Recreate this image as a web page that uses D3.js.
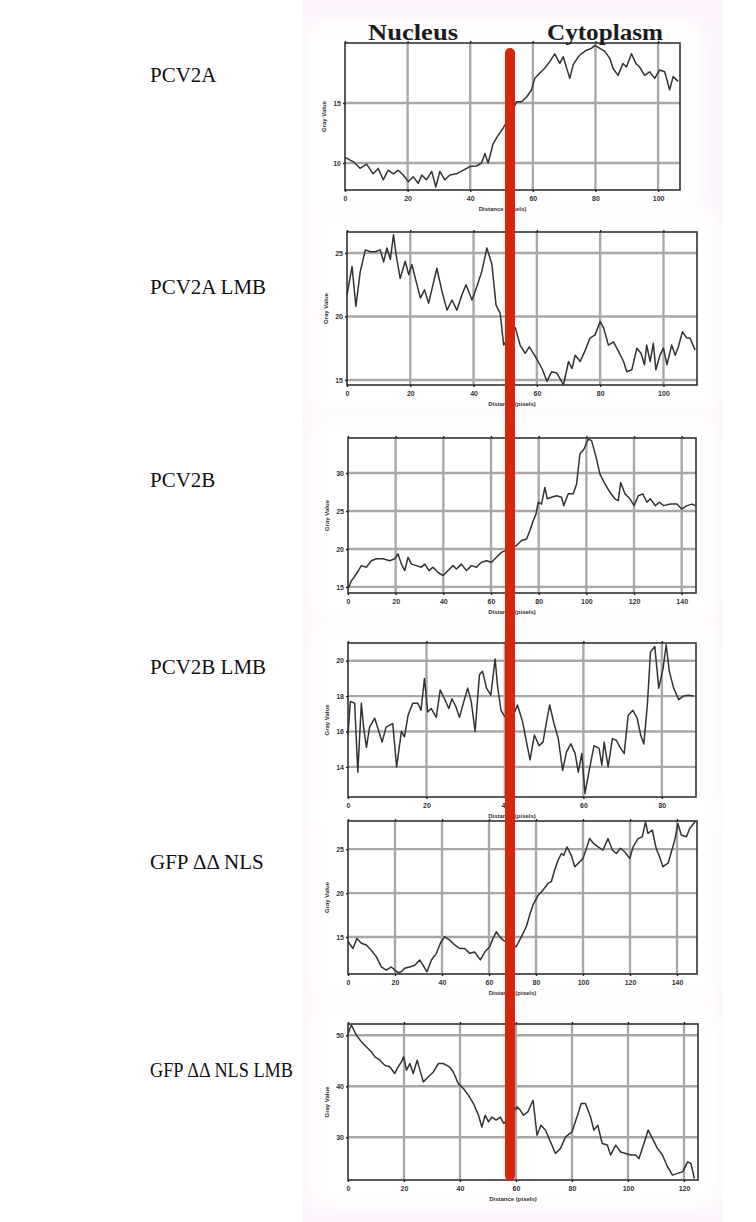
<!DOCTYPE html>
<html>
  <head>
    <meta charset="utf-8" />
    <title>Line profiles</title>
    <script src="https://d3js.org/d3.v7.min.js"></script>
    <style>
        body {margin: 0; background: #ffffff;}
        .rowLabel {font-family: "Liberation Serif", "Times New Roman", serif; font-size: 21px; fill: #111;}
        .head {font-family: "Liberation Serif", serif; font-weight: bold; font-size: 24px; fill: #1c1c1c;}
        .tick text {font-family: "Liberation Sans", Arial, sans-serif; font-size: 7px; font-weight: bold; fill: #333;}
        .axLabel {font-family: "Liberation Sans", Arial, sans-serif; font-size: 6px; font-weight: bold; fill: #333;}
    </style>
  </head>
  <body>

    <svg id="canvas" width="756" height="1222"></svg>

    <script>

        // ---- data ----
        var rowLabels = ["PCV2A", "PCV2A LMB", "PCV2B", "PCV2B LMB", "GFP \u0394\u0394 NLS", "GFP \u0394\u0394 NLS LMB"];
        var headLabels = ["Nucleus", "Cytoplasm"];
        var xTitle = "Distance (pixels)";
        var yTitle = "Gray Value";
        var boundaryDist = 52.7; // where the red bar sits, in panel 1 distance

        var pcv2aDist = [0,2.7,4.8,6.9,9,10.6,12.2,13.8,15.4,17,18.6,20.2,21.8,23.4,24.5,26,27.7,29,30.3,31.9,33.5,35.6,37.8,39.9,42,43.6,44.7,45.7,47.3,48.9,50.5,52.5,54.8,56.4,58,59.6,60.6,62.2,63.8,65.4,67,68.6,69.7,71.8,72.9,74.5,75.5,77.1,78.7,79.8,81.4,83,84.6,85.6,87.2,88.8,89.9,91.5,92.9,94.1,95.7,97.3,98.9,100.5,102.1,103.7,104.8,106.4];
        var pcv2aGray = [10.47,10.1,9.56,9.9,9.1,9.55,8.6,9.4,9.1,9.4,9.0,8.45,8.85,8.3,9.0,8.6,9.3,8.0,9.3,8.6,9.0,9.1,9.4,9.7,9.75,10.0,10.8,10.0,11.6,12.3,12.9,13.8,15.1,15.1,15.5,16.1,17.05,17.5,17.9,18.45,19.1,18.3,18.85,17.05,18.2,18.85,19.1,19.4,19.55,19.8,19.55,19.3,18.7,17.9,17.3,18.3,18.0,19.1,18.3,18.0,17.3,17.6,17.05,17.75,17.6,16.1,17.2,16.8];

        var pcv2aLmbDist = [0,1.6,2.8,4.2,5.8,7.4,8.9,10.5,11.6,12.6,13.7,14.7,15.5,16.8,18.4,19.5,20.5,21.6,23.2,24.5,25.8,27.4,28.4,30,31.6,33.2,34.7,36.3,37.6,39.5,41.1,42.6,44.2,45.8,47.1,48.4,49.5,51.3,53.2,54.7,56.3,57.6,59.5,61.6,63.2,64.7,66.3,68.4,70,71.1,72.1,73.7,75.3,76.8,78.4,80,81.1,82.6,84.2,85.8,87.4,88.4,90,91.6,92.9,94,94.7,95.8,96.8,97.6,98.9,100,101.1,102.6,103.7,104.7,106,107.4,108.4,110];
        var pcv2aLmbGray = [21.7,23.95,20.8,23.55,25.25,25.1,25.1,25.25,24.3,25.4,24.5,26.45,24.9,23.0,24.35,23.3,24.1,23.0,21.45,22.1,21.05,22.75,23.8,22.0,20.5,21.3,20.5,21.7,22.5,21.3,22.4,23.55,25.4,24.1,20.9,20.25,17.75,18.4,19.1,17.75,17.1,17.6,16.85,15.9,14.9,15.65,15.55,14.6,16.45,15.9,16.95,16.45,17.35,18.3,18.55,19.6,19.1,17.75,18.0,17.25,16.45,15.65,15.8,17.5,17.1,16.2,17.75,16.45,17.9,15.8,16.95,17.5,16.2,17.75,16.95,17.6,18.8,18.3,18.3,17.35];

        var pcv2bDist = [0,1.4,3.5,5.6,7.7,9.8,11.9,14.7,17.5,19.6,21,22.4,23.8,25.2,26.6,28.7,30.8,32.2,34,35.7,37.8,39.9,42,44.1,45.5,47.6,49.7,51.8,53.9,56,58.1,60.2,62.3,64.4,67.5,70.7,72.8,74.9,76.3,77.7,78.9,79.8,81.2,82.6,83.6,85.4,87.5,89.6,90.5,92.4,94.5,95.9,97.3,99,100.8,102.2,104.1,105.7,107.8,109.9,112,113.4,114.4,116.2,118.3,120,121.8,123.7,125.4,126.8,128.9,130.7,132.4,135.2,138,140,142.2,144.3,145.7];
        var pcv2bGray = [14.7,15.8,16.7,17.8,17.6,18.45,18.7,18.7,18.45,18.7,19.35,18.0,17.15,18.9,18.0,17.8,17.6,18.0,17.15,17.6,16.9,16.5,17.15,17.8,17.35,18.0,17.15,17.8,17.6,18.25,18.45,18.25,18.9,19.55,20.0,20.45,21.1,21.3,22.4,23.7,24.6,26.15,25.9,28.1,26.6,26.8,27.0,26.8,25.7,27.25,27.25,28.55,32.5,33.15,34.45,34.25,32.05,29.85,28.55,27.45,26.6,26.35,28.75,27.25,26.6,25.7,27.0,27.25,26.15,26.6,25.7,26.15,25.7,25.9,25.9,25.25,25.7,25.9,25.7];

        var pcv2bLmbDist = [0,0.6,1.7,2.5,3.4,4,4.7,5.5,6.8,7.6,8.7,9.7,11.4,12.4,13.6,14.4,15.3,16.5,17.8,18.6,19.5,20.3,21.2,22.5,23.5,24.6,25.7,26.5,27.5,28.4,29.4,30.5,31.4,32.4,33.5,34.3,35.3,36.4,37.5,38.1,39,39.8,41.5,43.2,44.5,45.5,46.4,47.5,48.7,49.7,50.6,51.4,52.5,53.6,54.7,55.7,56.8,57.9,58.7,59.6,60.4,61.4,62.7,64,64.7,65.3,66.3,67.4,68.4,69.5,70.4,71.4,72.6,73.7,74.6,75.4,76.3,77.1,78.2,79.2,80.3,81.1,81.9,83,84.3,85.5,86.8,88.1];
        var pcv2bLmbGray = [15.8,17.7,17.6,13.7,17.6,16.2,15.1,16.25,16.75,16.2,15.4,16.25,16.45,14.0,16.0,15.7,16.9,17.6,17.6,17.2,19.0,17.1,17.3,16.8,18.35,17.85,17.3,17.85,17.4,16.8,17.6,18.45,17.7,16.0,19.2,19.4,18.45,18.05,20.1,18.6,17.2,16.9,16.6,17.5,16.55,15.4,14.4,15.8,15.2,15.4,16.55,17.5,16.45,15.6,13.8,14.85,15.3,14.75,13.7,14.75,12.5,13.7,15.2,15.05,14.1,15.4,14.0,15.6,15.5,15.05,14.75,16.9,17.2,16.75,15.8,15.3,17.5,20.5,20.8,18.45,19.55,20.9,19.4,18.45,17.8,18.0,18.05,18.0];

        var gfpDist = [0,2.1,3.8,5.7,7.8,9.9,12.1,14.2,16.3,18.4,19.9,21.3,22.7,24.1,26.2,28.4,30.5,31.9,33.6,35.5,37.6,39.3,41.1,43.3,45.4,47.5,49.6,51.8,53.9,56.3,58.2,60.3,61.7,63.1,64.5,66,68.8,71.6,73.8,75.9,77.3,78.7,80.9,83,85.1,86.5,87.9,89.4,90.8,91.8,93.2,95,96.5,98.6,100,101.4,102.8,104.5,106.4,108.5,110.6,112.5,114.2,115.9,117.7,119.9,121.3,123.4,125.2,126.6,127.6,129.5,131.1,132.6,134,136.2,137.6,139,140.4,141.8,144,145.4,147.9];
        var gfpGray = [14.5,13.7,14.85,14.3,14.1,13.5,12.75,11.6,11.25,11.6,11.25,10.95,11.05,11.45,11.6,11.8,12.4,11.8,11.05,12.4,13.15,14.3,15.05,14.65,14.1,13.7,13.7,13.15,13.3,12.4,13.3,13.9,14.85,15.6,15.05,14.65,14.2,13.9,15.05,16.2,17.5,18.65,19.75,20.35,21.1,21.3,22.6,23.75,24.5,24.3,25.25,24.3,23.0,23.55,23.95,25.05,26.2,25.65,25.25,24.9,26.2,24.9,24.5,25.1,24.7,23.95,25.25,26.2,26.4,28.1,26.8,27.15,25.1,24.1,23.0,23.4,24.7,26.0,27.9,26.6,26.4,27.35,28.2];

        var gfpLmbDist = [0,1.2,3,4.8,6.6,8.4,9.6,11.4,13.1,14.9,16.7,17.9,19.1,19.9,20.9,22.1,23.3,24.7,25.7,26.9,28.7,30.5,32.3,34,36.2,37.6,39.4,41.2,43,44.8,46.6,47.8,49,50.2,51.4,52.9,54.4,55.6,58,60.3,61.5,62.7,64.2,66.1,67.5,68.9,70.5,72.3,74.1,75.9,77.7,80,81.8,83.3,84.8,86.6,87.8,89.2,90.8,92.6,93.8,95.6,97.4,99.2,101,102.7,103.9,105.7,107.2,108.7,110.5,112.3,114.1,115.9,117.7,119.5,121.3,122.5,123.7];
        var gfpLmbGray = [50.3,52.0,50.0,48.7,47.7,46.7,45.75,45.1,44.1,43.8,42.5,43.8,44.8,45.75,43.15,44.45,42.5,45.1,43.15,40.85,41.85,42.8,44.45,44.45,43.8,42.8,40.5,39.55,38.25,36.6,34.3,32.0,34.3,33.0,33.95,33.35,33.95,32.7,34.0,35.95,35.3,34.3,34.95,37.25,30.4,32.35,31.4,29.1,26.8,27.8,30.05,31.05,34.0,36.6,36.6,34.0,31.4,32.35,28.75,28.45,26.5,28.45,27.1,26.8,26.5,26.5,25.8,28.75,31.4,29.75,27.8,26.5,24.2,22.55,22.9,23.2,25.15,24.8,21.9];

        // axis ranges and tick labels per panel
        var xMaxes = [107, 110.6, 146, 88.7, 148.5, 125];
        var yRanges = [[7.75, 20], [14.6, 26.66], [14.2, 34.6], [12.3, 21.0], [10.8, 28.2], [21.6, 52.2]];
        var xTickVals = [[0,20,40,60,80,100], [0,20,40,60,80,100], [0,20,40,60,80,100,120,140], [0,20,40,60,80], [0,20,40,60,80,100,120,140], [0,20,40,60,80,100,120]];
        var yTickVals = [[10,15], [15,20,25], [15,20,25,30], [14,16,18,20], [15,20,25], [30,40,50]];

        var seriesDist = [pcv2aDist, pcv2aLmbDist, pcv2bDist, pcv2bLmbDist, gfpDist, gfpLmbDist];
        var seriesGray = [pcv2aGray, pcv2aLmbGray, pcv2bGray, pcv2bLmbGray, gfpGray, gfpLmbGray];

        // ---- layout (pixel boxes of each plot) ----
        var boxes = [
            {l: 345, r: 680, t: 43,   b: 190,  label: 75},
            {l: 347, r: 697, t: 232,  b: 385,  label: 287},
            {l: 348, r: 696, t: 438,  b: 593,  label: 480},
            {l: 348, r: 696, t: 643,  b: 797,  label: 667},
            {l: 348, r: 697, t: 821,  b: 974,  label: 862},
            {l: 348, r: 698, t: 1024, b: 1180, label: 1070}
        ];

        var svg = d3.select("#canvas");

        var defs = svg.append("defs");
        defs.append("filter").attr("id", "soft")
            .attr("x", "-20%").attr("y", "-20%").attr("width", "140%").attr("height", "140%")
            .append("feGaussianBlur").attr("stdDeviation", 8);

        // faint pink backdrop behind the figure strip
        svg.append("rect")
            .attr("x", 303).attr("y", 0).attr("width", 420).attr("height", 1222)
            .attr("fill", "#fcf3fa");

        svg.selectAll(".glow").data(boxes).enter().append("rect")
            .attr("class", "glow")
            .attr("x", function(d){ return d.l - 38; })
            .attr("y", function(d){ return d.t - 22; })
            .attr("width", function(d){ return d.r - d.l + 60; })
            .attr("height", function(d){ return d.b - d.t + 50; })
            .attr("rx", 14)
            .attr("fill", "#ffffff")
            .attr("filter", "url(#soft)");

        var line = d3.line();
        var firstX = null;

        boxes.forEach(function(box, i) {

            var x = d3.scaleLinear().domain([0, xMaxes[i]]).range([box.l, box.r]);
            var y = d3.scaleLinear().domain(yRanges[i]).range([box.b, box.t]);
            if (i === 0) firstX = x;

            var g = svg.append("g");

            g.append("rect")
                .attr("x", box.l).attr("y", box.t)
                .attr("width", box.r - box.l).attr("height", box.b - box.t)
                .attr("fill", "#ffffff");

            // grid
            g.selectAll(".vgrid").data(xTickVals[i].slice(1)).enter().append("line")
                .attr("x1", function(d){ return x(d); }).attr("x2", function(d){ return x(d); })
                .attr("y1", box.t).attr("y2", box.b)
                .attr("stroke", "#a8a8a8").attr("stroke-width", 2.4);

            g.selectAll(".hgrid").data(yTickVals[i]).enter().append("line")
                .attr("x1", box.l).attr("x2", box.r)
                .attr("y1", function(d){ return y(d); }).attr("y2", function(d){ return y(d); })
                .attr("stroke", "#a8a8a8").attr("stroke-width", 2.4);

            // profile
            var pts = seriesDist[i].map(function(d, k){ return [x(d), y(seriesGray[i][k])]; });
            g.append("path")
                .attr("d", line(pts))
                .attr("fill", "none")
                .attr("stroke", "#333")
                .attr("stroke-width", 1.5)
                .attr("stroke-linejoin", "round");

            // frame
            g.append("rect")
                .attr("x", box.l).attr("y", box.t)
                .attr("width", box.r - box.l).attr("height", box.b - box.t)
                .attr("fill", "none").attr("stroke", "#333").attr("stroke-width", 1.6);

            // axes
            var xb = g.append("g").attr("transform", "translate(0," + box.b + ")")
                .call(d3.axisBottom(x).tickValues(xTickVals[i]).tickSize(2).tickPadding(4));
            xb.select(".domain").remove();

            var xt = g.append("g").attr("transform", "translate(0," + box.t + ")")
                .call(d3.axisTop(x).tickValues(xTickVals[i]).tickSize(2).tickFormat(""));
            xt.select(".domain").remove();

            var yl = g.append("g").attr("transform", "translate(" + box.l + ",0)")
                .call(d3.axisLeft(y).tickValues(yTickVals[i]).tickSize(2).tickPadding(2));
            yl.select(".domain").remove();

            g.selectAll(".tick line").attr("stroke", "#222").attr("stroke-width", 1.4);

            g.append("text").attr("class", "axLabel")
                .attr("x", (box.l + box.r) / 2 - 10).attr("y", box.b + 21)
                .attr("text-anchor", "middle")
                .text(xTitle);

            g.append("text").attr("class", "axLabel")
                .attr("transform", "translate(" + (box.l - 19) + "," + ((box.t + box.b) / 2) + ") rotate(-90)")
                .attr("text-anchor", "middle")
                .text(yTitle);

            // row label on the left
            var lab = svg.append("text").attr("class", "rowLabel")
                .attr("x", 150).attr("y", box.label + 7)
                .text(rowLabels[i]);
            // the longest label is set tighter in the original
            if (lab.node().getComputedTextLength() > 145) {
                lab.attr("textLength", 143).attr("lengthAdjust", "spacingAndGlyphs");
            }
        });

        // column headings
        svg.append("text").attr("class", "head")
            .attr("x", 413).attr("y", 40).attr("text-anchor", "middle")
            .attr("textLength", 90).attr("lengthAdjust", "spacingAndGlyphs")
            .text(headLabels[0]);
        svg.append("text").attr("class", "head")
            .attr("x", 605).attr("y", 40).attr("text-anchor", "middle")
            .attr("textLength", 116).attr("lengthAdjust", "spacingAndGlyphs")
            .text(headLabels[1]);

        // red boundary bar across all panels
        var bx = firstX(boundaryDist);
        svg.append("line")
            .attr("x1", bx).attr("x2", bx)
            .attr("y1", 53).attr("y2", 1176)
            .attr("stroke", "#d8260c").attr("stroke-width", 10).attr("stroke-linecap", "round");

    </script>

  </body>
</html>
